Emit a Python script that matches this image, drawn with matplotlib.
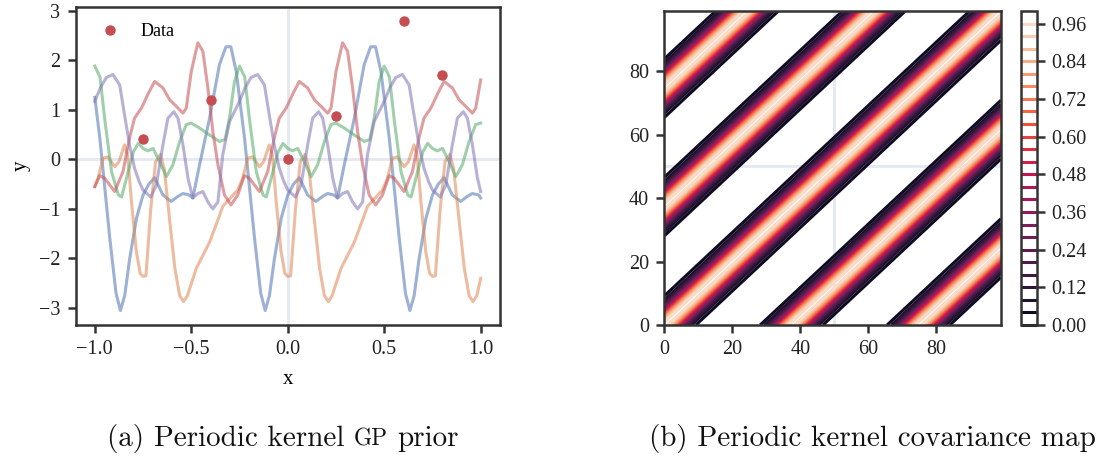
import numpy as np
import matplotlib
matplotlib.use("Agg")
import matplotlib.pyplot as plt
import seaborn as sns

# five prior samples (x, y vertices)
blue_x = [-1.000, -0.974, -0.922, -0.890, -0.867, -0.845, -0.819, -0.784,
          -0.750, -0.720, -0.690, -0.647, -0.604, -0.570, -0.543, -0.510, -0.492, -0.457, -0.405, -0.354, -0.320,
          -0.295, -0.267, -0.224, -0.172, -0.140, -0.117, -0.095, -0.069, -0.034,
          0.000, 0.030, 0.060, 0.103, 0.146, 0.180, 0.207, 0.240, 0.258, 0.293, 0.345, 0.396, 0.430,
          0.455, 0.483, 0.526, 0.578, 0.610, 0.633, 0.655, 0.681, 0.716,
          0.750, 0.780, 0.810, 0.853, 0.896, 0.930, 0.957, 0.990, 1.000]
blue_y = [1.25, 0.43, -1.60, -2.70, -3.05, -2.75, -2.00, -1.19,
          -0.72, -0.50, -0.37, -0.72, -0.85, -0.75, -0.69, -0.72, -0.78, -0.11, 0.83, 1.91, 2.27,
          2.27, 1.77, 0.43, -1.60, -2.70, -3.05, -2.75, -2.00, -1.19,
          -0.72, -0.50, -0.37, -0.72, -0.85, -0.75, -0.69, -0.72, -0.78, -0.11, 0.83, 1.91, 2.27,
          2.27, 1.77, 0.43, -1.60, -2.70, -3.05, -2.75, -2.00, -1.19,
          -0.72, -0.50, -0.37, -0.72, -0.85, -0.75, -0.69, -0.72, -0.78]

orange_x = [-1.000, -0.983, -0.958, -0.932, -0.897, -0.875, -0.846, -0.830, -0.810, -0.785, -0.765,
            -0.750, -0.735, -0.710, -0.685, -0.660, -0.640, -0.610, -0.585, -0.560, -0.540, -0.520, -0.474,
            -0.405, -0.360, -0.337, -0.302, -0.259, -0.233, -0.208, -0.182, -0.147, -0.125, -0.096, -0.080,
            -0.060, -0.035, -0.015,
            0.000, 0.015, 0.040, 0.065, 0.090, 0.110, 0.140, 0.165, 0.190, 0.210, 0.230, 0.276,
            0.345, 0.390, 0.413, 0.448, 0.491, 0.517, 0.542, 0.568, 0.603, 0.625, 0.654, 0.670,
            0.690, 0.715, 0.735,
            0.750, 0.765, 0.790, 0.815, 0.840, 0.860, 0.890, 0.915, 0.940, 0.960, 0.980, 1.000]
orange_y = [-0.55, -0.38, 0.02, 0.05, -0.15, -0.05, 0.29, 0.10, -0.85, -1.85, -2.30,
            -2.36, -2.35, -1.00, -0.05, 0.10, -0.20, -1.30, -2.20, -2.75, -2.87, -2.75, -2.20,
            -1.67, -1.20, -0.95, -0.80, -0.62, -0.38, 0.02, 0.05, -0.15, -0.05, 0.29, 0.10,
            -0.85, -1.85, -2.30,
            -2.36, -2.35, -1.00, -0.05, 0.10, -0.20, -1.30, -2.20, -2.75, -2.87, -2.75, -2.20,
            -1.67, -1.20, -0.95, -0.80, -0.62, -0.38, 0.02, 0.05, -0.15, -0.05, 0.29, 0.10,
            -0.85, -1.85, -2.30,
            -2.36, -2.35, -1.00, -0.05, 0.10, -0.20, -1.30, -2.20, -2.75, -2.87, -2.75, -2.40]

green_x = [-1.000, -0.973, -0.947, -0.913, -0.878, -0.861, -0.827, -0.800, -0.775,
           -0.750, -0.725, -0.698, -0.664, -0.629, -0.595, -0.560, -0.526, -0.500, -0.457, -0.405, -0.354,
           -0.325, -0.302, -0.276, -0.250, -0.223, -0.197, -0.163, -0.128, -0.111, -0.077, -0.050, -0.025,
           0.000, 0.025, 0.052, 0.086, 0.121, 0.155, 0.190, 0.224, 0.250, 0.293, 0.345, 0.396,
           0.425, 0.448, 0.474, 0.500, 0.527, 0.553, 0.587, 0.622, 0.639, 0.673, 0.700, 0.725,
           0.750, 0.775, 0.802, 0.836, 0.871, 0.905, 0.940, 0.974, 1.000]
green_y = [1.88, 1.66, 0.76, -0.25, -0.72, -0.76, -0.25, 0.15, 0.32,
           0.22, 0.17, 0.22, -0.05, -0.35, -0.11, 0.36, 0.70, 0.73, 0.63, 0.49, 0.36,
           0.40, 0.83, 1.57, 1.88, 1.66, 0.76, -0.25, -0.72, -0.76, -0.25, 0.15, 0.32,
           0.22, 0.17, 0.22, -0.05, -0.35, -0.11, 0.36, 0.70, 0.73, 0.63, 0.49, 0.36,
           0.40, 0.83, 1.57, 1.88, 1.66, 0.76, -0.25, -0.72, -0.76, -0.25, 0.15, 0.32,
           0.22, 0.17, 0.22, -0.05, -0.35, -0.11, 0.36, 0.70, 0.73]

red_x = [-1.000, -0.975, -0.949, -0.897, -0.854, -0.820, -0.794, -0.759,
         -0.750, -0.720, -0.690, -0.647, -0.612, -0.578, -0.543, -0.526, -0.500, -0.466, -0.440, -0.414,
         -0.388, -0.362, -0.328, -0.294, -0.259, -0.225, -0.199, -0.147, -0.104, -0.070, -0.044, -0.009,
         0.000, 0.030, 0.060, 0.103, 0.138, 0.172, 0.207, 0.224, 0.250, 0.284, 0.310, 0.336,
         0.362, 0.388, 0.422, 0.456, 0.491, 0.525, 0.551, 0.603, 0.646, 0.680, 0.706, 0.741,
         0.750, 0.780, 0.810, 0.853, 0.888, 0.922, 0.957, 0.974, 1.000]
red_y = [-0.55, -0.33, -0.38, -0.65, -0.25, 0.43, 0.83, 1.03,
         1.10, 1.35, 1.57, 1.44, 1.20, 1.07, 0.93, 1.03, 1.77, 2.35, 2.18, 1.44,
         0.56, -0.11, -0.72, -0.92, -0.72, -0.33, -0.38, -0.65, -0.25, 0.43, 0.83, 1.03,
         1.10, 1.35, 1.57, 1.44, 1.20, 1.07, 0.93, 1.03, 1.77, 2.35, 2.18, 1.44,
         0.56, -0.11, -0.72, -0.92, -0.72, -0.33, -0.38, -0.65, -0.25, 0.43, 0.83, 1.03,
         1.10, 1.35, 1.57, 1.44, 1.20, 1.07, 0.93, 1.03, 1.60]

purple_x = [-1.000, -0.970, -0.940, -0.906, -0.871, -0.846, -0.820, -0.794, -0.770,
            -0.750, -0.710, -0.681, -0.647, -0.621, -0.590, -0.569, -0.543, -0.517, -0.492, -0.466, -0.440,
            -0.414, -0.388, -0.362, -0.337, -0.302, -0.250, -0.220, -0.190, -0.156, -0.121, -0.096, -0.070,
            -0.044, -0.020,
            0.000, 0.040, 0.069, 0.103, 0.129, 0.160, 0.181, 0.207, 0.233, 0.258, 0.284, 0.310,
            0.336, 0.362, 0.388, 0.413, 0.448, 0.500, 0.530, 0.560, 0.594, 0.629, 0.654, 0.680,
            0.706, 0.730,
            0.750, 0.790, 0.819, 0.853, 0.879, 0.910, 0.931, 0.957, 0.983, 1.000]
purple_y = [1.17, 1.45, 1.65, 1.71, 1.50, 0.90, 0.29, -0.18, -0.45,
            -0.62, -0.76, -0.52, 0.29, 0.83, 0.96, 0.83, 0.29, -0.38, -0.78, -0.69, -0.65,
            -0.86, -1.00, -0.86, 0.09, 0.76, 1.17, 1.45, 1.65, 1.71, 1.50, 0.90, 0.29,
            -0.18, -0.45,
            -0.62, -0.76, -0.52, 0.29, 0.83, 0.96, 0.83, 0.29, -0.38, -0.78, -0.69, -0.65,
            -0.86, -1.00, -0.86, 0.09, 0.76, 1.17, 1.45, 1.65, 1.71, 1.50, 0.90, 0.29,
            -0.18, -0.45,
            -0.62, -0.76, -0.52, 0.29, 0.83, 0.96, 0.83, 0.29, -0.38, -0.65]

sample_colors = ["#4C72B0", "#DD8452", "#55A868", "#C44E52", "#8172B3"]

# observed points
data_x = [-0.75, -0.40, 0.00, 0.25, 0.60, 0.80]
data_y = [0.40, 1.20, 0.00, 0.87, 2.78, 1.70]

# periodic kernel used for the covariance map
n_grid = 100
period = 0.755
lengthscale = 0.55
n_levels = 25


def periodic_kernel(a, b):
    d = np.abs(a[:, None] - b[None, :])
    return np.exp(-2.0 * np.sin(np.pi * d / period) ** 2 / lengthscale ** 2)


def style_axes(ax):
    for s in ax.spines.values():
        s.set_linewidth(1.8)
        s.set_color("#333333")
    ax.tick_params(direction="out", length=6, width=1.8, color="#333333",
                   labelsize=14.5, labelcolor="#222222", pad=5)


def caption(fig, xc, y, parts, size):
    # sequential text runs centred on xc (figure fraction); "GP" drawn as small caps
    renderer = fig.canvas.get_renderer()
    texts = [fig.text(0, y, s, fontsize=size * k, family="cmr10", va="baseline",
                      color="#111111") for s, k in parts]
    widths = [t.get_window_extent(renderer).width for t in texts]
    gap = 0.33 * size * fig.dpi / 72
    fw = fig.get_figwidth() * fig.dpi
    x = xc * fw - (sum(widths) + gap * (len(texts) - 1)) / 2
    for t, w in zip(texts, widths):
        t.set_x(x / fw)
        x += w + gap


plt.rcParams["font.family"] = ["Liberation Serif", "DejaVu Serif"]
plt.rcParams["axes.unicode_minus"] = True

fig = plt.figure(figsize=(10.96, 4.59), dpi=100)
W, H = 1096, 459

# (a) prior samples
ax1 = fig.add_axes([75.5 / W, 1 - 325 / H, 424.5 / W, 318 / H])
ax1.axhline(0, color="#e3e8f2", lw=2, zorder=0)
ax1.axvline(0, color="#e3e8f2", lw=2, zorder=0)
samples = [(blue_x, blue_y), (orange_x, orange_y), (green_x, green_y),
           (red_x, red_y), (purple_x, purple_y)]
for (sx, sy), c in zip(samples, sample_colors):
    ax1.plot(sx, sy, color=c, lw=2.2, alpha=0.55, zorder=2)
ax1.plot(data_x, data_y, "o", color="#C44E52", ms=6.5, label="Data", zorder=3)
ax1.set_xticks([-1.0, -0.5, 0.0, 0.5, 1.0])
ax1.set_yticks([-3, -2, -1, 0, 1, 2, 3])
ax1.set_xlabel("x", fontsize=15, labelpad=8)
ax1.set_ylabel("y", fontsize=15, labelpad=6)
ax1.legend(loc="upper left", frameon=False, fontsize=13, handletextpad=0.7,
           borderaxespad=0.5, borderpad=0.4)
style_axes(ax1)

# (b) covariance map
grid = np.linspace(-1, 1, n_grid)
K = periodic_kernel(grid, grid)
ax2 = fig.add_axes([664.5 / W, 1 - 325 / H, 336.5 / W, 314 / H])
ax2.axhline(50, color="#e3e8f2", lw=2, zorder=0)
ax2.axvline(50, color="#e3e8f2", lw=2, zorder=0)
cmap = sns.color_palette("rocket", as_cmap=True)
cs = ax2.contour(np.arange(n_grid), np.arange(n_grid), K, levels=n_levels,
                 cmap=cmap, linewidths=2.2, zorder=2)
ax2.set_xticks([0, 20, 40, 60, 80])
ax2.set_yticks([0, 20, 40, 60, 80])
ax2.set_xlim(0, n_grid - 1)
ax2.set_ylim(0, n_grid - 1)
style_axes(ax2)

cax = fig.add_axes([1021 / W, 1 - 325 / H, 16 / W, 314 / H])
cb = fig.colorbar(cs, cax=cax, format="%.2f")
cb.outline.set_linewidth(1.8)
cb.outline.set_edgecolor("#333333")
cax.tick_params(direction="out", length=6, width=1.8, color="#333333",
                labelsize=14.5, labelcolor="#222222", pad=4)

caption(fig, 283 / W, 1 - 446 / H, [("(a) Periodic kernel", 1.0), ("GP", 0.8), ("prior", 1.0)], 21)
caption(fig, 872 / W, 1 - 446 / H, [("(b) Periodic kernel covariance map", 1.0)], 21)

fig.savefig("out.png", dpi=100)
